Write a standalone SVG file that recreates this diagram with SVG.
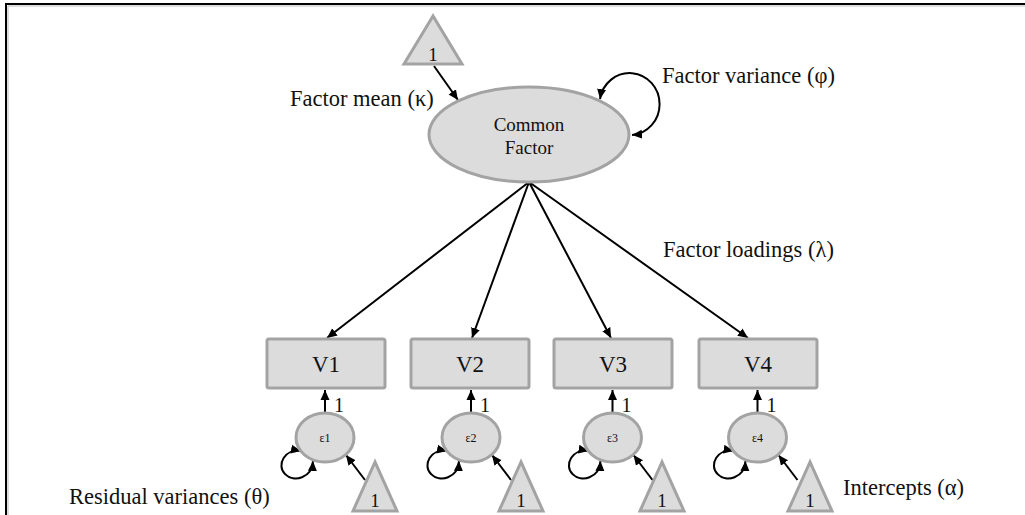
<svg xmlns="http://www.w3.org/2000/svg" width="1025" height="515" viewBox="0 0 1025 515">
  <style>
    .shape { fill: #dcdcdc; stroke: #a3a3a3; stroke-width: 3; }
    .edge { fill: none; stroke: #000; stroke-width: 2; }
    .arrow { marker-end: url(#ah); }
    .both { marker-start: url(#ah); marker-end: url(#ah); }
    text { font-family: "Liberation Serif", "Times New Roman", serif; fill: #111; }
    .lbl { font-size: 22.5px; }
    .var { font-size: 23px; text-anchor: middle; }
    .one { font-size: 19px; text-anchor: middle; }
    .fix { font-size: 20px; }
    .eps { font-size: 12px; text-anchor: middle; }
    .fac { font-size: 19px; text-anchor: middle; }
  </style>
  <defs>
    <marker id="ah" viewBox="0 0 10 10" refX="10" refY="5" markerWidth="10" markerHeight="10" markerUnits="userSpaceOnUse" orient="auto-start-reverse">
      <path d="M0,0.5 L10,5 L0,9.5 z" fill="#000"/>
    </marker>
  </defs>

  <rect width="1025" height="515" fill="#fff"/>
  <!-- frame -->
  <path d="M6,515 V4 H1025" fill="none" stroke="#000" stroke-width="2"/>
  <path d="M8,515 V6 H1025" fill="none" stroke="#bbb" stroke-width="1"/>

  <!-- connectors -->
  <g id="connectors">
    <!-- mean path into the factor -->
    <path class="edge arrow" d="M434,66 L458,100"/>
    <!-- factor variance -->
    <path class="edge both" d="M600,99 A30,31 0 1 1 632,135"/>
    <!-- loadings -->
    <path class="edge arrow" d="M529,182 L327,338"/>
    <path class="edge arrow" d="M529,182 L472,338"/>
    <path class="edge arrow" d="M529,182 L611,338"/>
    <path class="edge arrow" d="M529,182 L748,338"/>
    <!-- residual to indicator (fixed to 1) -->
    <path class="edge arrow" d="M325,413 V390"/>
    <path class="edge arrow" d="M471,413 V390"/>
    <path class="edge arrow" d="M612.5,413 V390"/>
    <path class="edge arrow" d="M757.5,413 V390"/>
    <!-- residual variances -->
    <path class="edge both" d="M301,451 C285,448 276,465 285,474 C294,483 312,478 313,461"/>
    <path class="edge both" d="M447,451 C431,448 422,465 431,474 C440,483 458,478 459,461"/>
    <path class="edge both" d="M588.5,451 C572.5,448 563.5,465 572.5,474 C581.5,483 599.5,478 600.5,461"/>
    <path class="edge both" d="M733.5,451 C717.5,448 708.5,465 717.5,474 C726.5,483 744.5,478 745.5,461"/>
    <!-- intercepts -->
    <path class="edge arrow" d="M365,480 L346,455"/>
    <path class="edge arrow" d="M511,480 L492,455"/>
    <path class="edge arrow" d="M652.5,480 L633.5,455"/>
    <path class="edge arrow" d="M797.5,480 L778.5,455"/>
  </g>

  <!-- mean constant -->
  <g id="mean-const">
    <polygon class="shape" points="433,16 404,64 462,64"/>
    <text class="one" x="433" y="61">1</text>
  </g>

  <!-- latent factor -->
  <g id="common-factor">
    <ellipse class="shape" cx="529" cy="134.5" rx="100" ry="47.5"/>
    <text class="fac" x="529" y="131">Common</text>
    <text class="fac" x="529" y="154">Factor</text>
  </g>

  <!-- indicators -->
  <g id="v1">
    <rect class="shape" x="267" y="339" width="118" height="49" rx="2"/>
    <text class="var" x="326" y="372">V1</text>
  </g>
  <g id="v2">
    <rect class="shape" x="411" y="339" width="118" height="49" rx="2"/>
    <text class="var" x="470" y="372">V2</text>
  </g>
  <g id="v3">
    <rect class="shape" x="554" y="339" width="118" height="49" rx="2"/>
    <text class="var" x="613" y="372">V3</text>
  </g>
  <g id="v4">
    <rect class="shape" x="699" y="339" width="118" height="49" rx="2"/>
    <text class="var" x="758" y="372">V4</text>
  </g>

  <!-- residuals -->
  <g id="e1">
    <ellipse class="shape" cx="325" cy="437.5" rx="29" ry="24.5"/>
    <text class="eps" x="325" y="442">ε1</text>
  </g>
  <g id="e2">
    <ellipse class="shape" cx="471" cy="437.5" rx="29" ry="24.5"/>
    <text class="eps" x="471" y="442">ε2</text>
  </g>
  <g id="e3">
    <ellipse class="shape" cx="612.5" cy="437.5" rx="29" ry="24.5"/>
    <text class="eps" x="612.5" y="442">ε3</text>
  </g>
  <g id="e4">
    <ellipse class="shape" cx="757.5" cy="437.5" rx="29" ry="24.5"/>
    <text class="eps" x="757.5" y="442">ε4</text>
  </g>

  <!-- intercept constants -->
  <g id="c1">
    <polygon class="shape" points="375,462 353,511 397,511"/>
    <text class="one" x="375" y="507">1</text>
  </g>
  <g id="c2">
    <polygon class="shape" points="521,462 499,511 543,511"/>
    <text class="one" x="521" y="507">1</text>
  </g>
  <g id="c3">
    <polygon class="shape" points="662,462 640,511 684,511"/>
    <text class="one" x="662" y="507">1</text>
  </g>
  <g id="c4">
    <polygon class="shape" points="810,462 788,511 832,511"/>
    <text class="one" x="810" y="507">1</text>
  </g>

  <!-- fixed loadings -->
  <g id="fixed-ones">
    <text class="fix" x="334" y="412">1</text>
    <text class="fix" x="480" y="412">1</text>
    <text class="fix" x="621.5" y="412">1</text>
    <text class="fix" x="766.5" y="412">1</text>
  </g>

  <!-- parameter labels -->
  <g id="labels">
    <text class="lbl" x="290" y="106">Factor mean (κ)</text>
    <text class="lbl" x="662" y="83">Factor variance (φ)</text>
    <text class="lbl" x="663" y="257">Factor loadings (λ)</text>
    <text class="lbl" x="69" y="504">Residual variances (θ)</text>
    <text class="lbl" x="843" y="495">Intercepts (α)</text>
  </g>
</svg>
